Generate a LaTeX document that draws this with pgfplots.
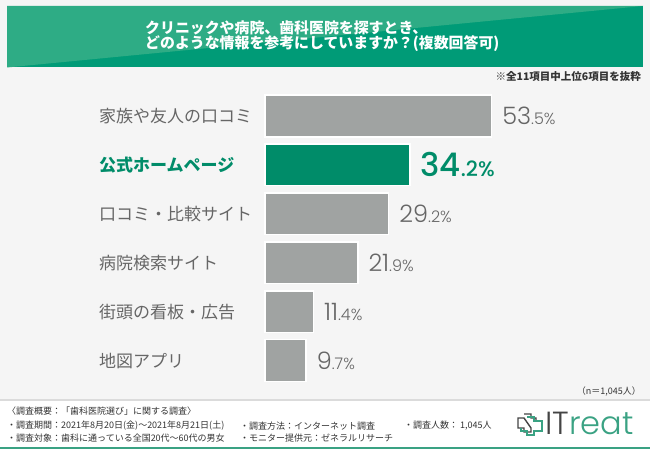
\documentclass[border=0pt]{standalone}
\usepackage{fontspec}
\setmainfont{Noto Sans CJK JP}
\newfontfamily\numfont{Poppins Light}
\newfontfamily\numfontm{Poppins Medium}
\usepackage{pgfplots}
\usepackage{pgfplotstable}
\pgfplotsset{compat=1.18}
\definecolor{bgc}{HTML}{F5F5F5}
\definecolor{hdark}{HTML}{009B77}
\definecolor{hlight}{HTML}{2EAC85}
\definecolor{barg}{HTML}{A0A3A2}
\definecolor{hgreen}{HTML}{008C69}
\definecolor{labgray}{HTML}{666666}
\definecolor{numgray}{HTML}{666666}
\definecolor{txtdark}{HTML}{333333}
\definecolor{lgreen}{HTML}{3AA283}
\definecolor{logodark}{HTML}{444444}

\pgfplotstableread{
v i
53.5 0
29.2 2
21.9 3
11.4 4
9.7 5
}\graydata
\pgfplotstableread{
v i
34.2 1
}\greendata

\def\grayval#1.#2\relax{{\numfont\fontsize{24bp}{24bp}\selectfont#1}{\numfont\fontsize{16bp}{16bp}\selectfont.#2\%}}
\def\greenval#1.#2\relax{{\numfontm\fontsize{32.5bp}{32bp}\selectfont#1}{\numfontm\fontsize{21bp}{21bp}\selectfont.#2\%}}

\begin{document}
\begin{tikzpicture}
\begin{scope}[x=1bp,y=-1bp,yshift=450bp]
\fill[bgc] (0,0) rectangle (650,450);
% header
\fill[hdark] (7,6) rectangle (643,67.5);
\fill[hlight] (7,6) -- (643,6) -- (7,67.5) -- cycle;
\node[anchor=west, text=white, font=\bfseries\fontsize{14.9bp}{16bp}\selectfont, inner sep=0] at (145,27.5) {クリニックや病院、歯科医院を探すとき、};
\node[anchor=west, text=white, font=\bfseries\fontsize{14.9bp}{16bp}\selectfont, inner sep=0] at (145,44) {どのような情報を参考にしていますか？(複数回答可)};
\node[anchor=east, text=txtdark, font=\bfseries\fontsize{10.5bp}{12bp}\selectfont, inner sep=0] at (641,77) {※全11項目中上位6項目を抜粋};
\node[anchor=east, text=txtdark, font=\fontsize{9bp}{10bp}\selectfont, inner sep=0] at (641,392) {（n＝1,045人）};
% footer
\fill[black!14] (0,399.5) rectangle (650,401);
\fill[white] (0,401) rectangle (650,447.5);
\fill[lgreen] (0,447.5) rectangle (650,449.5);
\fill[white] (0,449.5) rectangle (650,450);
\begin{scope}[every node/.style={anchor=west, text=txtdark, font=\fontsize{9bp}{10bp}\selectfont, inner sep=0}]
\node at (7,411) {〈調査概要：「歯科医院選び」に関する調査〉};
\node at (7,426) {・調査期間：2021年8月20日(金)～2021年8月21日(土)};
\node at (240,426) {・調査方法：インターネット調査};
\node at (404,426) {・調査人数： 1,045人};
\node at (7,438.5) {・調査対象：歯科に通っている全国20代～60代の男女};
\node at (240,438.5) {・モニター提供元：ゼネラルリサーチ};
\end{scope}
% logo
\draw[logodark, line width=1.4bp] (524,414) -- (531,414) -- (531,418) -- (536,418) -- (536,421) (531,428) -- (531,432) -- (524,432) -- (524,428) -- (518,428) -- (518,418) -- (524,418) -- cycle;
\draw[lgreen, line width=1.4bp] (527,417) -- (534,417) -- (534,421) -- (542,421) -- (542,431) -- (534,431) -- (534,435) -- (527,435) -- (527,431) -- (521,431) -- (521,428);
\node[anchor=west, inner sep=0, font=\numfont\fontsize{32bp}{32bp}\selectfont] at (545,423.5) {\textcolor{logodark}{IT}\textcolor{lgreen}{reat}};
\end{scope}

\begin{axis}[
  at={(265bp,358.6bp)}, anchor=north west,
  scale only axis, width=338.8bp, height=293.7bp,
  xmin=0, xmax=80, ymin=-0.5, ymax=5.5, y dir=reverse,
  clip=false, axis line style={draw=none}, xtick=\empty,
  ytick={0,...,5}, major tick length=0pt,
  yticklabels={家族や友人の口コミ,{\bfseries\color{hgreen}公式ホームページ},口コミ・比較サイト,病院検索サイト,街頭の看板・広告,地図アプリ},
  yticklabel style={anchor=west, xshift=-166bp, inner sep=0pt, text=labgray, font=\fontsize{17bp}{20bp}\selectfont},
]
\addplot[xbar, bar shift=0pt, bar width=41.8bp, fill=barg, draw=white, line width=1.5bp,
  point meta=explicit symbolic,
  nodes near coords={\expandafter\grayval\pgfplotspointmeta\relax},
  every node near coord/.append style={anchor=west, inner sep=0pt, xshift=10bp, text=numgray}]
  table[x=v, y=i, meta=v] {\graydata};
\addplot[xbar, bar shift=0pt, bar width=41.8bp, fill=hgreen, draw=white, line width=1.5bp,
  point meta=explicit symbolic,
  nodes near coords={\expandafter\greenval\pgfplotspointmeta\relax},
  every node near coord/.append style={anchor=west, inner sep=0pt, xshift=10bp, text=hgreen}]
  table[x=v, y=i, meta=v] {\greendata};
\end{axis}
\end{tikzpicture}
\end{document}
